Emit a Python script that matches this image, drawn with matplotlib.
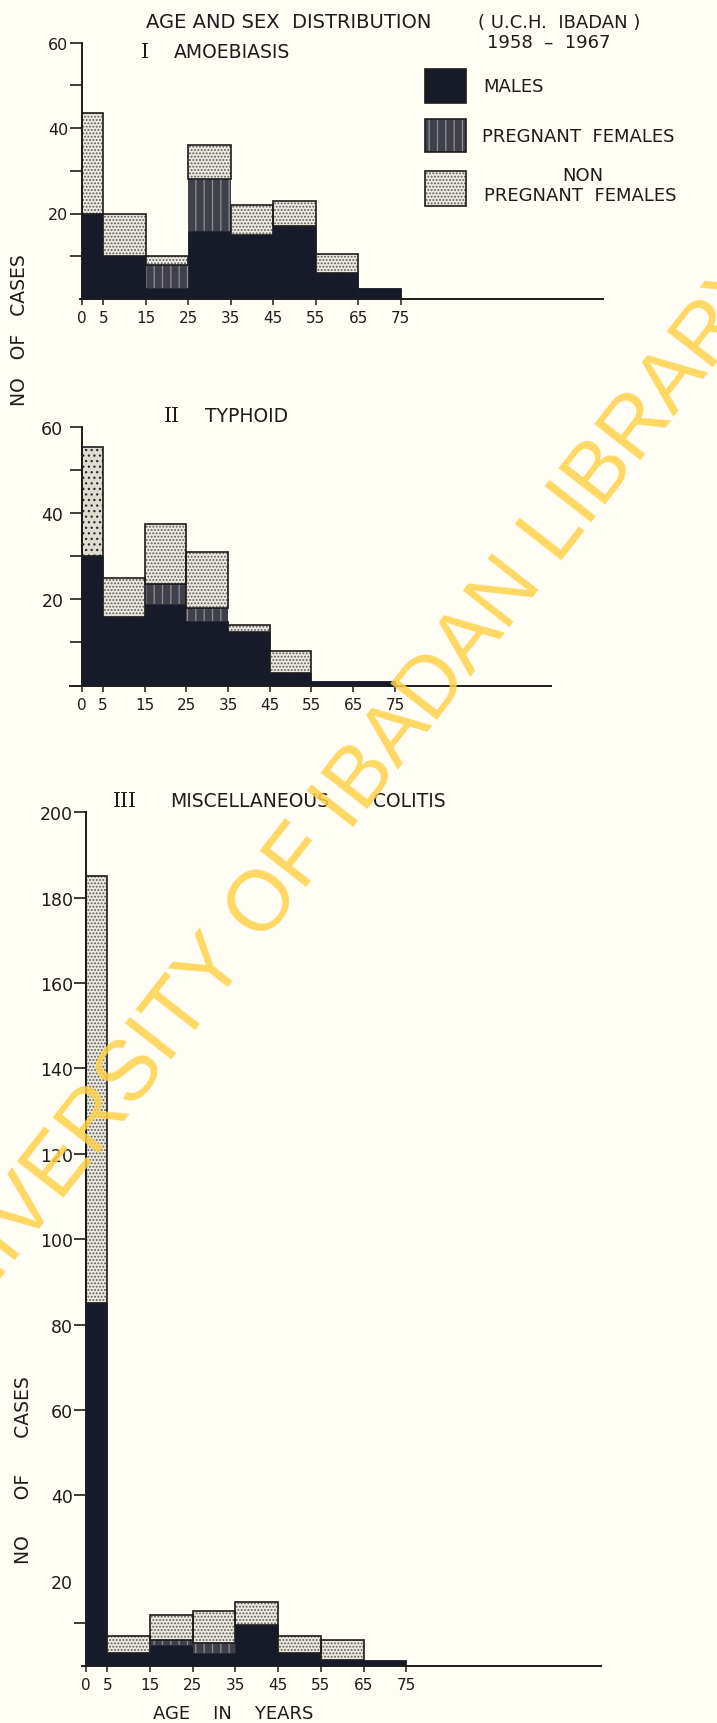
import matplotlib
matplotlib.use("Agg")
import matplotlib.pyplot as plt
from matplotlib.patches import Rectangle
import numpy as np

plt.rcParams['font.family'] = ['DejaVu Sans']
plt.rcParams['hatch.linewidth'] = 0.9

W, H = 717, 1724

# Age groups (years) shared by all three histograms
age_edges = [0, 5, 15, 25, 35, 45, 55, 65, 75]
age_tick_labels = ['0', '5', '15', '25', '35', '45', '55', '65', '75']

# I  Amoebiasis
amoeb_males = [20, 10, 2.5, 16, 15, 17, 6, 2.5]
amoeb_pregnant = [0, 0, 5.5, 12, 0, 0, 0, 0]
amoeb_nonpregnant = [23.5, 10, 2, 8, 7, 6, 4.5, 0]

# II  Typhoid
typh_males = [30, 16, 19, 15, 12.5, 3, 1, 1]
typh_pregnant = [0, 0, 4.5, 3, 0, 0, 0, 0]
typh_nonpregnant = [25.5, 9, 14, 13, 1.5, 5, 0, 0]

# III  Miscellaneous colitis
colitis_males = [85, 3, 5, 3, 9.5, 3, 1.5, 1.5]
colitis_pregnant = [0, 0, 1, 2.5, 0, 0, 0, 0]
colitis_nonpregnant = [100, 4, 6, 7.5, 5.5, 4, 4.5, 0]

MALE = '#171a28'
PREG_FACE = '#3f4049'
PREG_STRIPE = '#8e8e94'
NPF_FACE = '#ebe9df'
NPF_DOT = '#5c5c5c'
INK = '#1c1c1c'
PAPER = '#fffdf4'

fig = plt.figure(figsize=(W / 100, H / 100), dpi=100, facecolor=PAPER)


def px_axes(x0, x1, ytop, ybot):
    return fig.add_axes([x0 / W, 1 - ybot / H, (x1 - x0) / W, (ybot - ytop) / H])


def draw_panel(ax, males, preg, nonpreg, coarse_first=False):
    lefts = np.array(age_edges[:-1], float)
    widths = np.diff(np.array(age_edges, float))
    males = np.asarray(males, float)
    preg = np.asarray(preg, float)
    nonpreg = np.asarray(nonpreg, float)

    ax.bar(lefts, males, width=widths, align='edge', color=MALE,
           edgecolor=MALE, linewidth=0.6, zorder=2)

    m = preg > 0
    ax.bar(lefts[m], preg[m], width=widths[m], bottom=males[m], align='edge',
           color=PREG_FACE, edgecolor=PREG_STRIPE, hatch='||', linewidth=0,
           zorder=2)

    base = males + preg
    n = nonpreg > 0
    for i in np.where(n)[0]:
        coarse = coarse_first and i == 0
        ax.bar(lefts[i], nonpreg[i], width=widths[i], bottom=base[i],
               align='edge', color='#dedbd0' if coarse else NPF_FACE,
               edgecolor='#2a2a2a' if coarse else NPF_DOT,
               hatch='...' if coarse else '.....', linewidth=0, zorder=2)
    ax.bar(lefts[n], nonpreg[n], width=widths[n], bottom=base[n], align='edge',
           fill=False, edgecolor=INK, linewidth=1.2, zorder=3)


def style_axis(ax, xlim, ylim, major, minor, ysize, ypad, hide_tick=()):
    ax.set_facecolor('none')
    ax.set_xlim(*xlim)
    ax.set_ylim(*ylim)
    for s in ('top', 'right'):
        ax.spines[s].set_visible(False)
    ax.spines['left'].set_position(('data', 0))
    ax.spines['left'].set_bounds(0, ylim[1])
    for s in ('left', 'bottom'):
        ax.spines[s].set_linewidth(1.4)
        ax.spines[s].set_color(INK)
        ax.spines[s].set_zorder(4)
    ax.set_xticks(age_edges)
    ax.set_xticklabels(age_tick_labels, fontsize=11, color=INK)
    ax.set_yticks(major)
    ax.set_yticklabels([str(v) for v in major], fontsize=ysize, color=INK)
    ax.set_yticks(minor, minor=True)
    ax.tick_params(axis='y', which='both', direction='out', length=8.5,
                   width=1.2, color=INK, pad=ypad)
    ax.tick_params(axis='x', which='both', direction='out', length=4.5,
                   width=1.1, color=INK, pad=3.5)
    for t in ax.yaxis.get_major_ticks():
        if t.get_loc() in hide_tick:
            t.tick1line.set_visible(False)


# Panel I
ax1 = px_axes(79.9, 602.6, 43.5, 300)
draw_panel(ax1, amoeb_males, amoeb_pregnant, amoeb_nonpregnant)
style_axis(ax1, (-0.5, 122.5), (0, 60), [20, 40, 60], [10, 30, 50], 11.5, 1.5)

# Panel II
ax2 = px_axes(69.9, 551, 428.3, 686.5)
draw_panel(ax2, typh_males, typh_pregnant, typh_nonpregnant, coarse_first=True)
style_axis(ax2, (-2.9, 112.4), (0, 60), [20, 40, 60], [10, 30, 50], 12.5, 5)

# Panel III
ax3 = px_axes(81.7, 600.5, 813.3, 1667)
draw_panel(ax3, colitis_males, colitis_pregnant, colitis_nonpregnant)
style_axis(ax3, (-1, 120.5), (0, 200), list(range(20, 201, 20)), [10], 12.5, 1,
           hide_tick=(20,))

# Overlay in pixel coordinates for titles, legend and lettering
ov = fig.add_axes([0, 0, 1, 1])
ov.set_xlim(0, W)
ov.set_ylim(H, 0)
ov.axis('off')
ov.set_facecolor('none')

txt = dict(color=INK, va='center', ha='left')
num = dict(color=INK, va='center', ha='left', family='DejaVu Serif',
           fontsize=14.5)
ov.text(146, 22.5, 'AGE AND SEX  DISTRIBUTION', fontsize=14, **txt)
ov.text(478, 22.5, '( U.C.H.  IBADAN )', fontsize=13, **txt)
ov.text(487, 43, '1958  \u2013  1967', fontsize=13, **txt)

ov.text(141, 52, 'I', **num)
ov.text(174, 52, 'AMOEBIASIS', fontsize=13.5, **txt)
ov.text(164, 417, 'II', **num)
ov.text(205, 417, 'TYPHOID', fontsize=13.5, **txt)
ov.text(113, 802, 'III', **num)
ov.text(170, 802, 'MISCELLANEOUS', fontsize=13.5, **txt)
ov.text(373, 802, 'COLITIS', fontsize=13.5, **txt)

# Legend
ov.add_patch(Rectangle((425, 70), 41, 34, facecolor=MALE, edgecolor=INK, lw=1.2))
ov.add_patch(Rectangle((425, 120), 41, 33, facecolor=PREG_FACE,
                       edgecolor=PREG_STRIPE, hatch='||', lw=0))
ov.add_patch(Rectangle((425, 120), 41, 33, fill=False, edgecolor=INK, lw=1.2))
ov.add_patch(Rectangle((425, 172), 41, 35, facecolor=NPF_FACE,
                       edgecolor=NPF_DOT, hatch='.....', lw=0))
ov.add_patch(Rectangle((425, 172), 41, 35, fill=False, edgecolor=INK, lw=1.2))
ov.text(483, 87, 'MALES', fontsize=13, **txt)
ov.text(482, 137, 'PREGNANT  FEMALES', fontsize=13, **txt)
ov.text(583, 176, 'NON', fontsize=13, color=INK, va='center', ha='center')
ov.text(484, 196, 'PREGNANT  FEMALES', fontsize=13, **txt)

# Axis titles
ov.text(20, 330, 'NO   OF   CASES', fontsize=13.5, rotation=90,
        color=INK, ha='center', va='center')
ov.text(24, 1470, 'NO      OF      CASES', fontsize=13.5, rotation=90,
        color=INK, ha='center', va='center')
ov.text(233, 1714, 'AGE    IN    YEARS', fontsize=13, color=INK,
        ha='center', va='center')

# Library stamp across the sheet
ov.text(340, 808, 'UNIVERSITY OF IBADAN LIBRARY', fontsize=61,
        family=['Liberation Sans', 'DejaVu Sans'], color='#ffd24a', alpha=0.85,
        rotation=52, rotation_mode='anchor', ha='center', va='center',
        zorder=10)

fig.savefig('out.png', dpi=100, facecolor=PAPER)
